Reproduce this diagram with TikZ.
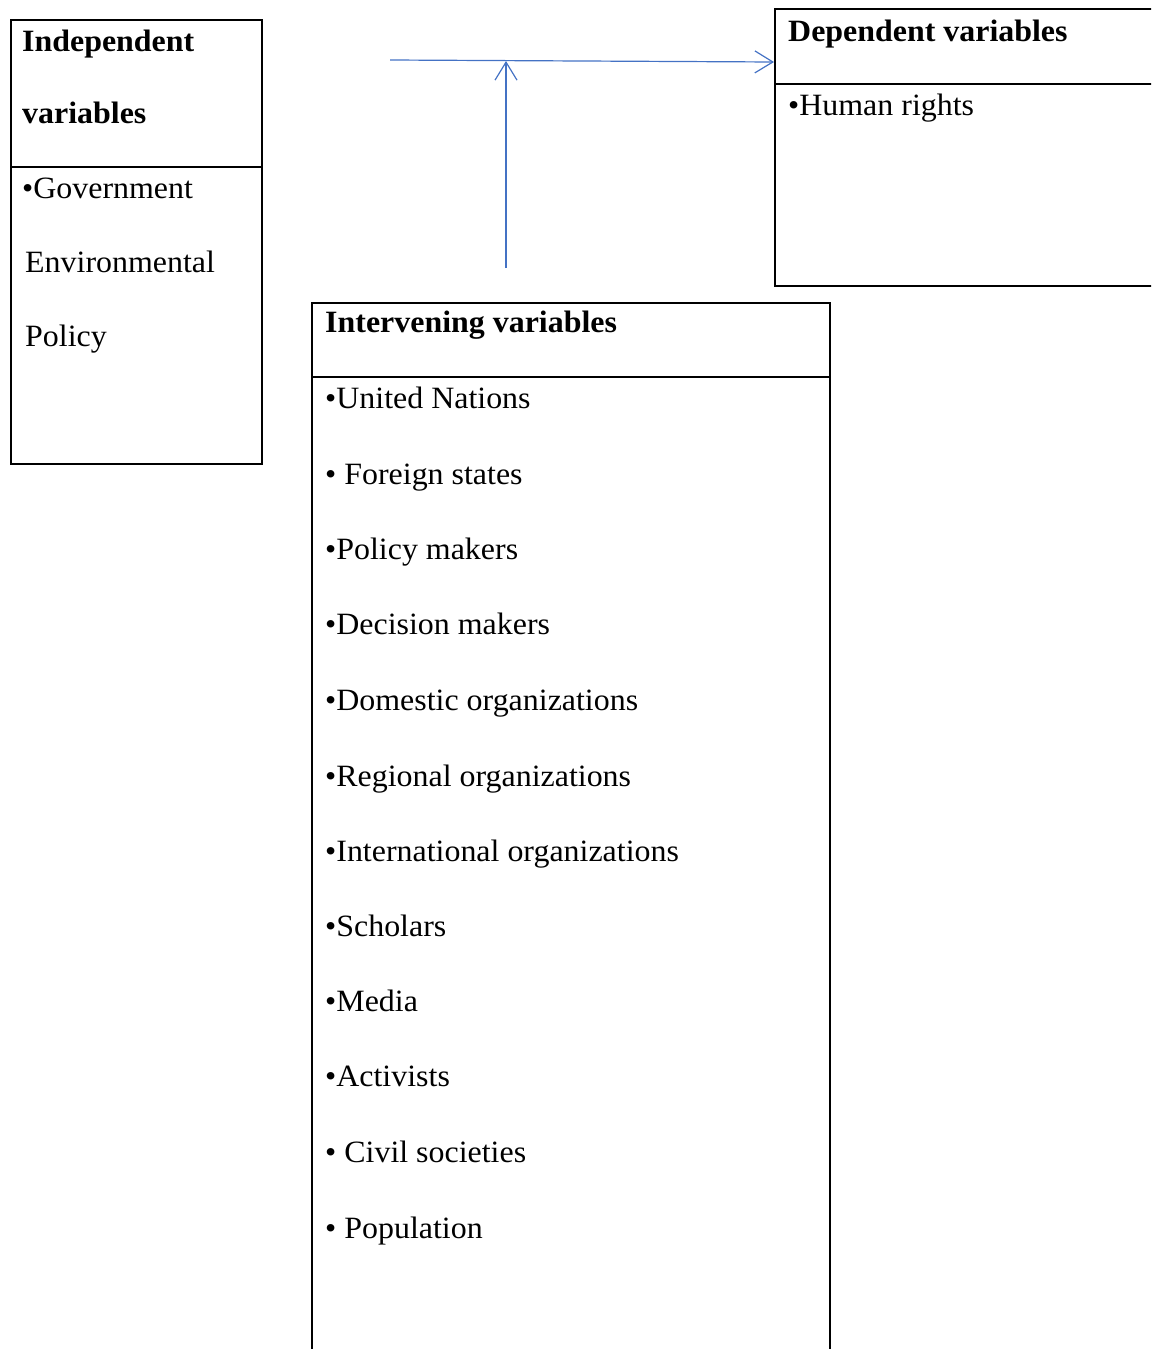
\documentclass[tikz,border=0pt]{standalone}
\usepackage{fontspec}
\setmainfont[FakeStretch=1.03]{Liberation Serif}
\usetikzlibrary{arrows.meta}
\definecolor{linkblue}{RGB}{68,114,196}
\tikzset{
	varbox/.style={draw, line width=1.8pt, rectangle, anchor=north west, inner sep=0pt},
	txt/.style={anchor=base west, inner sep=0pt, font=\fontsize{31}{36}\selectfont},
	head/.style={txt, font=\fontsize{31}{36}\selectfont\bfseries},
	link/.style={draw=linkblue, line width=1.2pt, -{Straight Barb[length=18pt, width=22pt, line width=1.2pt]}}
}

\begin{document}
\begin{tikzpicture}[x=1pt, y=-1pt]
			%%%%% START %%%%%
			\useasboundingbox (0, 0) rectangle (1151, 1349);
			\clip (0, 0) rectangle (1151, 1349);
			
			% independent
			\node[varbox, minimum width=251pt, minimum height=444pt] (indep) at (10, 19) {};
			\draw[line width=1.8pt] (10, 167) -- (261, 167);
			\node[head] (indepA) at (22, 51) {Independent};
			\node[head] (indepB) at (22, 123) {variables};
			\node[txt] (gov) at (22, 198) {•Government};
			\node[txt] (env) at (25, 272) {Environmental};
			\node[txt] (pol) at (25, 346) {Policy};
			
			% dependent
			\node[varbox, minimum width=400pt, minimum height=277pt] (dep) at (774, 8) {};
			\draw[line width=1.8pt] (774, 84) -- (1170, 84);
			\node[head] (depA) at (788, 41) {Dependent variables};
			\node[txt] (hum) at (788, 115) {•Human rights};
			
			% intervening
			\node[varbox, minimum width=518pt, minimum height=1100pt] (inter) at (311, 302) {};
			\draw[line width=1.8pt] (311, 377) -- (829, 377);
			\node[head] (interA) at (325, 332) {Intervening variables};
			\node[txt] (i1) at (325, 408) {•United Nations};
			\node[txt] (i2) at (325, 484) {• Foreign states};
			\node[txt] (i3) at (325, 559) {•Policy makers};
			\node[txt] (i4) at (325, 634) {•Decision makers};
			\node[txt] (i5) at (325, 710) {•Domestic organizations};
			\node[txt] (i6) at (325, 786) {•Regional organizations};
			\node[txt] (i7) at (325, 861) {•International organizations};
			\node[txt] (i8) at (325, 936) {•Scholars};
			\node[txt] (i9) at (325, 1011) {•Media};
			\node[txt] (i10) at (325, 1086) {•Activists};
			\node[txt] (i11) at (325, 1162) {• Civil societies};
			\node[txt] (i12) at (325, 1238) {• Population};
			
			% arrows
			\coordinate (from) at (390, 60);
			\coordinate (to) at (dep.north west |- 0, 62);
			\coordinate (meet) at (506, 61);
			\coordinate (up) at (506, 268);
			\draw[link] (from) -- (to);
			\draw[link] (up) -- (meet);
			
			%%%%% END %%%%%
\end{tikzpicture}
\end{document}
